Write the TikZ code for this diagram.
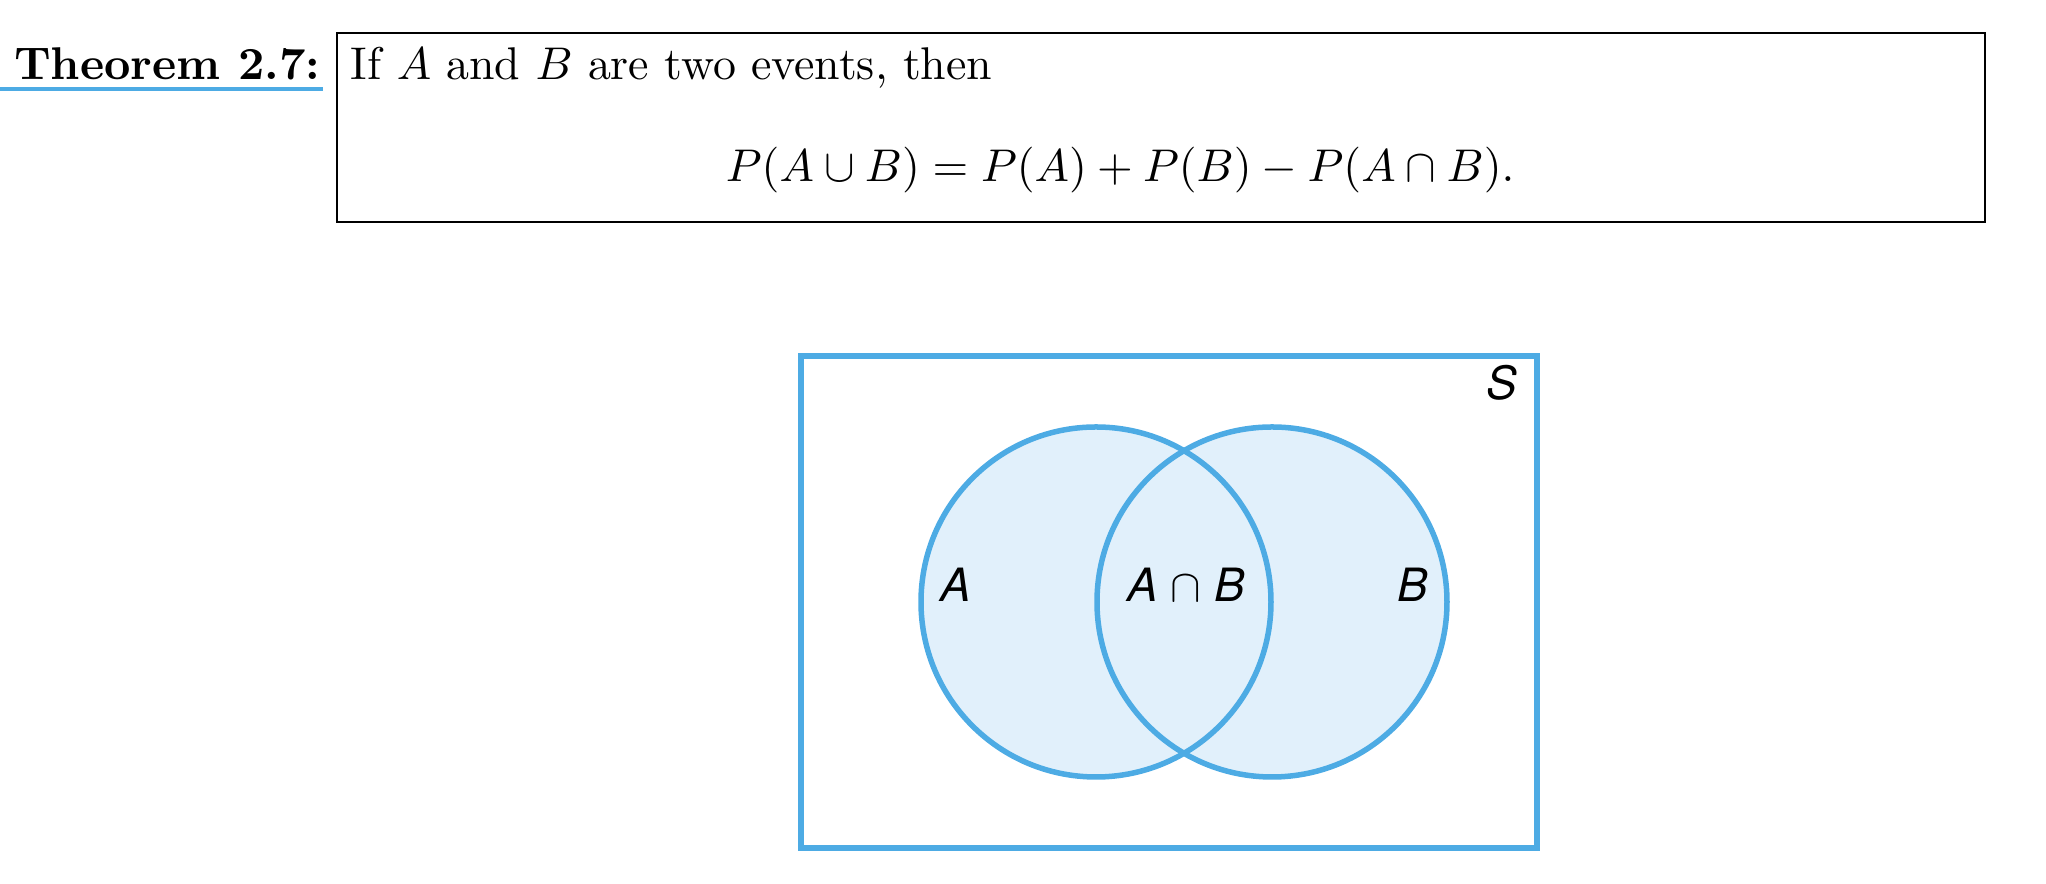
\documentclass[tikz,border=0pt]{standalone}
\usepackage{fontspec}
\newfontfamily\vennfont{TeX Gyre Heros}
\definecolor{vennblue}{RGB}{77,171,228}
\definecolor{vennfill}{RGB}{225,240,251}

\tikzset{
  thmtext/.style  = {inner sep=0pt, anchor=base west},
  thmbox/.style   = {draw=black, line width=0.45pt},
  thmline/.style  = {draw=vennblue, line width=0.7pt},
  setbox/.style   = {draw=vennblue, line width=1.35pt},
  setcirc/.style  = {draw=vennblue, line width=1.2pt},
  setfill/.style  = {fill=vennfill},
  setlabel/.style = {font=\vennfont\itshape, inner sep=0pt, anchor=base}
}

\begin{document}
\begin{tikzpicture}
[
x=0.218pt, y=-0.218pt
  ]
\useasboundingbox (0,0) rectangle (2046,884);

% theorem
\node[thmtext, anchor=base east] (thm) at (321,80) {\textbf{Theorem 2.7:}};
\draw[thmline] (0,89) -- (323,89);
\draw[thmbox] (337,33) rectangle (1985,222);
\node[thmtext] (if) at (350,80) {If $A$ and $B$ are two events, then};
\node[thmtext] (rule) at (725,182) {$P(A\cup B) = P(A) + P(B) - P(A\cap B).$};

% sample space
\draw[setbox] (801,356) rectangle (1537,848);
\fill[setfill] (1096,602) circle (175);
\fill[setfill] (1272,602) circle (175);
\draw[setcirc] (1096,602) circle (175);
\draw[setcirc] (1272,602) circle (175);

\node[setlabel] (A) at (956,602) {A};
\node[setlabel] (AB) at (1186,602) {A $\cap$ B};
\node[setlabel] (B) at (1413,602) {B};
\node[setlabel] (S) at (1502,400) {S};
\end{tikzpicture}
\end{document}
